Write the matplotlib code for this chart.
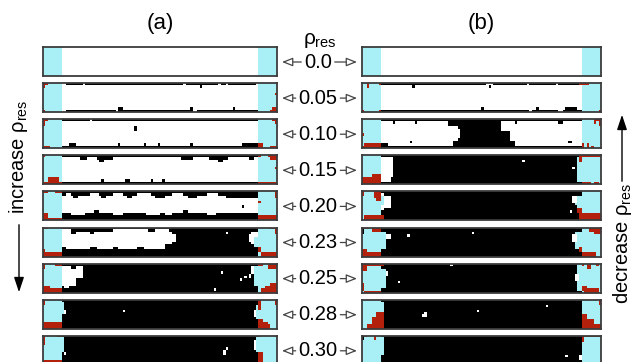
import numpy as np
import matplotlib
matplotlib.use("Agg")
import matplotlib.pyplot as plt
from matplotlib.colors import ListedColormap

plt.rcParams['font.family'] = 'Liberation Sans'
plt.rcParams['mathtext.fontset'] = 'custom'
plt.rcParams['mathtext.rm'] = 'Liberation Sans'
plt.rcParams['mathtext.it'] = 'Liberation Sans'

# lattice states: 0 empty (white), 1 occupied (black), 2 reservoir (cyan), 3 reservoir edge (red)
N_COLS, N_ROWS = 100, 12
RES_W = 8
rho_labels = ['0.0', '0.05', '0.10', '0.15', '0.20', '0.23', '0.25', '0.28', '0.30']

# paint operations per panel: (state, col0, col1, row0, row1), end exclusive
ops_a = [
    [],
    [('K', 10, 91, 0, 1), ('W', 17, 18, 0, 1), ('W', 60, 61, 0, 1), ('W', 75, 76, 0, 1), ('W', 78, 79, 0, 1),
     ('K', 67, 68, 1, 2), ('K', 10, 92, 11, 12), ('K', 32, 34, 10, 11), ('W', 31, 32, 11, 12),
     ('W', 64, 66, 11, 12), ('K', 63, 64, 10, 11), ('K', 81, 82, 10, 11),
     ('R', 0, 1, 0, 2), ('R', 1, 2, 0, 1), ('R', 0, 1, 11, 12), ('R', 98, 100, 10, 12), ('R', 99, 100, 4, 5),
     ('R', 97, 98, 11, 12)],
    [('K', 8, 92, 0, 1), ('W', 20, 21, 0, 1), ('K', 39, 40, 3, 5), ('K', 8, 92, 11, 12), ('K', 11, 14, 10, 11),
     ('K', 32, 33, 10, 11), ('K', 43, 44, 10, 11), ('K', 49, 50, 10, 11), ('K', 63, 64, 10, 11),
     ('K', 85, 92, 10, 11),
     ('R', 0, 1, 0, 3), ('R', 1, 2, 0, 1), ('R', 0, 3, 11, 12), ('R', 92, 94, 10, 12), ('R', 97, 100, 11, 12),
     ('R', 99, 100, 0, 2), ('R', 98, 99, 0, 1)],
    [('K', 8, 92, 0, 1), ('K', 16, 19, 1, 2), ('K', 23, 30, 1, 2), ('K', 24, 26, 2, 3), ('K', 59, 64, 1, 2),
     ('K', 71, 79, 1, 2), ('K', 75, 77, 2, 3), ('K', 88, 90, 1, 2), ('K', 8, 92, 11, 12),
     ('K', 25, 26, 10, 11), ('K', 35, 37, 10, 11), ('K', 46, 47, 10, 11), ('K', 51, 52, 10, 11),
     ('R', 0, 1, 0, 1), ('R', 2, 7, 9, 11), ('R', 0, 8, 11, 12),
     ('R', 96, 100, 0, 1), ('R', 97, 100, 1, 2), ('R', 92, 100, 11, 12), ('R', 92, 93, 0, 1), ('R', 99, 100, 5, 6)],
    [('K', 8, 92, 0, 2), ('W', 10, 12, 1, 2), ('W', 20, 24, 1, 2), ('W', 30, 34, 1, 2), ('W', 40, 46, 1, 2),
     ('W', 55, 60, 1, 2), ('W', 70, 75, 1, 2), ('K', 13, 15, 2, 3), ('K', 25, 27, 2, 3), ('K', 36, 38, 2, 3),
     ('K', 48, 52, 2, 3), ('K', 62, 66, 2, 3), ('K', 78, 92, 2, 3),
     ('K', 8, 92, 10, 12), ('K', 8, 12, 9, 10), ('K', 18, 30, 9, 10), ('K', 34, 44, 9, 10),
     ('K', 50, 52, 9, 10), ('K', 55, 70, 9, 10), ('K', 74, 92, 9, 10), ('K', 22, 24, 8, 9),
     ('K', 60, 62, 8, 9), ('K', 85, 86, 6, 7),
     ('R', 0, 2, 0, 1), ('R', 5, 8, 0, 1), ('R', 0, 2, 9, 11), ('R', 0, 8, 11, 12),
     ('R', 92, 100, 10, 12), ('R', 99, 100, 0, 3), ('R', 92, 93, 4, 5)],
    [('K', 8, 92, 0, 12), ('W', 8, 55, 2, 9), ('W', 8, 12, 1, 2), ('K', 12, 14, 2, 3), ('K', 20, 22, 2, 3),
     ('W', 30, 45, 1, 2), ('K', 8, 10, 8, 9), ('K', 20, 23, 8, 9), ('K', 30, 32, 8, 9), ('K', 40, 43, 8, 9),
     ('W', 48, 54, 1, 2), ('K', 52, 55, 7, 9), ('W', 55, 57, 3, 6), ('W', 78, 79, 2, 3),
     ('W', 89, 92, 2, 7), ('W', 88, 89, 3, 6), ('C', 90, 92, 4, 8),
     ('R', 0, 8, 10, 12), ('R', 0, 2, 0, 1), ('R', 0, 1, 9, 10),
     ('R', 97, 100, 0, 1), ('R', 99, 100, 1, 3), ('R', 93, 100, 10, 12), ('R', 92, 93, 8, 10)],
    [('K', 8, 92, 0, 12), ('W', 8, 17, 1, 6), ('W', 8, 14, 6, 9), ('W', 9, 11, 9, 10), ('K', 12, 14, 1, 2),
     ('W', 76, 77, 3, 4), ('W', 73, 74, 10, 11), ('W', 84, 85, 6, 7), ('W', 86, 87, 5, 6),
     ('C', 90, 92, 1, 9), ('W', 89, 90, 1, 4), ('W', 88, 89, 4, 6),
     ('R', 96, 100, 0, 2), ('R', 92, 94, 0, 1), ('R', 93, 100, 10, 12), ('R', 95, 100, 9, 10),
     ('R', 97, 100, 8, 9), ('R', 0, 8, 10, 12), ('R', 0, 3, 9, 10), ('R', 0, 1, 0, 2), ('R', 5, 8, 0, 1)],
    [('K', 8, 92, 0, 12), ('C', 8, 9, 1, 6), ('W', 9, 10, 4, 6), ('W', 34, 35, 4, 5),
     ('R', 0, 8, 9, 12), ('R', 0, 1, 0, 2),
     ('C', 91, 92, 2, 8), ('W', 90, 91, 4, 7), ('R', 92, 93, 0, 4), ('R', 92, 97, 10, 12),
     ('R', 92, 94, 8, 10), ('R', 94, 96, 9, 10), ('R', 99, 100, 0, 2)],
    [('K', 8, 92, 0, 12), ('C', 8, 9, 1, 7), ('W', 9, 10, 7, 8), ('R', 0, 1, 0, 4), ('R', 6, 8, 0, 1),
     ('R', 0, 8, 10, 12), ('W', 77, 78, 6, 8), ('W', 78, 79, 5, 6),
     ('C', 91, 92, 1, 7), ('W', 90, 91, 2, 6), ('R', 92, 94, 7, 12), ('R', 92, 93, 0, 1), ('R', 99, 100, 0, 1)],
]

ops_b = [
    [],
    [('K', 8, 92, 0, 1), ('W', 52, 55, 0, 1), ('W', 69, 70, 0, 1), ('W', 81, 82, 0, 1),
     ('K', 21, 22, 1, 2), ('K', 53, 54, 1, 2), ('K', 8, 92, 11, 12), ('K', 50, 51, 10, 11),
     ('K', 73, 74, 10, 11), ('W', 70, 71, 11, 12), ('W', 82, 84, 11, 12), ('K', 85, 90, 10, 11),
     ('R', 2, 3, 0, 2), ('R', 7, 8, 0, 1), ('R', 0, 1, 11, 12), ('R', 7, 8, 11, 12),
     ('R', 91, 95, 0, 1), ('R', 99, 100, 11, 12)],
    [('K', 8, 92, 0, 1), ('K', 8, 92, 11, 12), ('K', 40, 58, 0, 12), ('K', 36, 40, 1, 3),
     ('K', 38, 40, 9, 11), ('W', 40, 41, 4, 8), ('K', 58, 62, 5, 12), ('K', 60, 64, 9, 12),
     ('K', 8, 11, 10, 11), ('K', 20, 21, 9, 10), ('K', 13, 14, 1, 2), ('K', 22, 23, 1, 2),
     ('K', 64, 65, 1, 2), ('K', 82, 84, 1, 2), ('K', 86, 88, 9, 10),
     ('R', 1, 8, 10, 12), ('R', 0, 1, 6, 7), ('R', 0, 1, 11, 12), ('R', 97, 100, 0, 1),
     ('R', 99, 100, 1, 3), ('R', 97, 98, 1, 2), ('R', 92, 93, 10, 12), ('R', 94, 95, 10, 12),
     ('R', 96, 97, 11, 12)],
    [('K', 8, 92, 0, 12), ('W', 8, 13, 1, 9), ('W', 8, 12, 9, 11), ('R', 0, 8, 9, 12), ('R', 4, 8, 8, 9),
     ('W', 67, 68, 2, 3), ('W', 88, 89, 5, 6),
     ('C', 90, 92, 1, 11), ('R', 91, 100, 0, 1), ('R', 91, 92, 1, 3), ('R', 92, 96, 11, 12),
     ('R', 97, 99, 11, 12)],
    [('K', 8, 92, 0, 12), ('W', 8, 9, 1, 8), ('W', 9, 12, 2, 7), ('C', 8, 9, 2, 6),
     ('R', 0, 1, 0, 2), ('R', 5, 8, 0, 3), ('R', 6, 8, 3, 4), ('R', 1, 9, 10, 12),
     ('K', 89, 92, 0, 2), ('C', 89, 92, 2, 9), ('W', 88, 90, 2, 5), ('K', 89, 90, 6, 10),
     ('W', 87, 88, 8, 9), ('R', 91, 100, 9, 12), ('R', 90, 92, 7, 9)],
    [('K', 8, 92, 0, 12), ('C', 8, 10, 2, 9), ('W', 10, 12, 3, 5), ('K', 0, 1, 0, 3),
     ('R', 1, 3, 0, 1), ('R', 4, 8, 0, 2), ('R', 0, 2, 9, 12), ('R', 0, 8, 10, 12),
     ('W', 19, 20, 3, 4), ('W', 46, 47, 2, 3),
     ('K', 89, 92, 0, 2), ('C', 89, 92, 2, 9), ('W', 88, 90, 3, 6), ('K', 90, 92, 9, 12),
     ('R', 95, 100, 0, 2), ('R', 97, 100, 2, 3), ('R', 92, 98, 10, 12), ('R', 91, 92, 8, 10)],
    [('K', 8, 92, 0, 12), ('C', 8, 10, 2, 10), ('W', 10, 11, 3, 5),
     ('R', 0, 9, 0, 1), ('R', 0, 2, 1, 3), ('R', 0, 1, 8, 11), ('R', 1, 8, 11, 12),
     ('W', 37, 38, 0, 1), ('W', 15, 16, 7, 8),
     ('C', 90, 92, 0, 11), ('W', 89, 91, 4, 7), ('R', 92, 93, 0, 1), ('R', 94, 96, 0, 2),
     ('R', 98, 99, 0, 1), ('R', 93, 99, 10, 12), ('R', 92, 94, 9, 11)],
    [('K', 8, 92, 0, 12), ('C', 8, 9, 1, 6), ('R', 4, 9, 7, 12), ('R', 6, 9, 5, 7), ('R', 2, 4, 10, 12),
     ('W', 25, 27, 6, 7), ('W', 26, 27, 5, 6), ('W', 48, 49, 4, 5), ('W', 77, 78, 2, 3),
     ('R', 92, 94, 6, 12), ('R', 94, 97, 8, 12), ('R', 97, 100, 10, 12), ('R', 99, 100, 0, 2)],
    [('K', 8, 92, 0, 12), ('C', 8, 9, 1, 8), ('K', 0, 1, 0, 2), ('R', 1, 2, 0, 1), ('R', 5, 6, 0, 2),
     ('R', 92, 100, 0, 1), ('R', 92, 93, 1, 3), ('W', 91, 92, 8, 10), ('W', 85, 86, 8, 9)],
]

codes = {'W': 0, 'K': 1, 'C': 2, 'R': 3}
cmap = ListedColormap(['#ffffff', '#000000', '#a8eff6', '#b3200c'])


def build_grid(ops):
    g = np.zeros((N_ROWS, N_COLS), dtype=int)
    g[:, :RES_W] = 2
    g[:, N_COLS - RES_W:] = 2
    for s, c0, c1, r0, r1 in ops:
        g[r0:r1, c0:c1] = codes[s]
    return g


W_PX, H_PX = 639, 362
fig = plt.figure(figsize=(W_PX / 100, H_PX / 100), dpi=100)

panel_h = 29
pitch = 36.1
top0 = 47
cols_px = [(43, 277), (362, 601)]

for i in range(len(rho_labels)):
    top = top0 + pitch * i
    for (x0, x1), ops in zip(cols_px, [ops_a, ops_b]):
        ax = fig.add_axes([x0 / W_PX, 1 - (top + panel_h) / H_PX, (x1 - x0) / W_PX, panel_h / H_PX])
        ax.imshow(build_grid(ops[i]), cmap=cmap, vmin=-0.5, vmax=3.5, aspect='auto',
                  interpolation='nearest', extent=(0, N_COLS, N_ROWS, 0))
        ax.set_xticks([])
        ax.set_yticks([])
        for sp in ax.spines.values():
            sp.set_color('#3c3c3c')
            sp.set_linewidth(1.3)

# overlay in pixel coordinates for labels and arrows
ov = fig.add_axes([0, 0, 1, 1], zorder=10)
ov.set_xlim(0, W_PX)
ov.set_ylim(H_PX, 0)
ov.axis('off')

ov.text(160, 24, '(a)', ha='center', va='center', fontsize=16)
ov.text(481, 24, '(b)', ha='center', va='center', fontsize=16)
ov.text(320, 40, r'$\rho_{\mathrm{res}}$', ha='center', va='center', fontsize=15)

arrow_kw = dict(arrowstyle='-|>,head_length=0.45,head_width=0.18', fc='white', ec='#444444',
                lw=0.9, shrinkA=0, shrinkB=0)
for i, lab in enumerate(rho_labels):
    yc = top0 + pitch * i + panel_h / 2 + 0.5
    ov.annotate(lab, xy=(282, yc), xytext=(318, yc), ha='center', va='center', fontsize=14.5,
                arrowprops=arrow_kw)
    ov.annotate(lab, xy=(357, yc), xytext=(318, yc), ha='center', va='center', fontsize=14.5,
                color='none', arrowprops=arrow_kw)

ov.text(19, 157, r'increase $\rho_{\mathrm{res}}$', rotation=90, ha='center', va='center', fontsize=14.5)
ov.annotate('', xy=(19, 295), xytext=(19, 222),
            arrowprops=dict(arrowstyle='-|>,head_length=0.9,head_width=0.3', fc='black', ec='black', lw=1.0))
ov.text(622, 244, r'decrease $\rho_{\mathrm{res}}$', rotation=90, ha='center', va='center', fontsize=14.5)
ov.annotate('', xy=(622, 112), xytext=(622, 184),
            arrowprops=dict(arrowstyle='-|>,head_length=0.9,head_width=0.3', fc='black', ec='black', lw=1.0))

fig.savefig('out.png', dpi=100)
